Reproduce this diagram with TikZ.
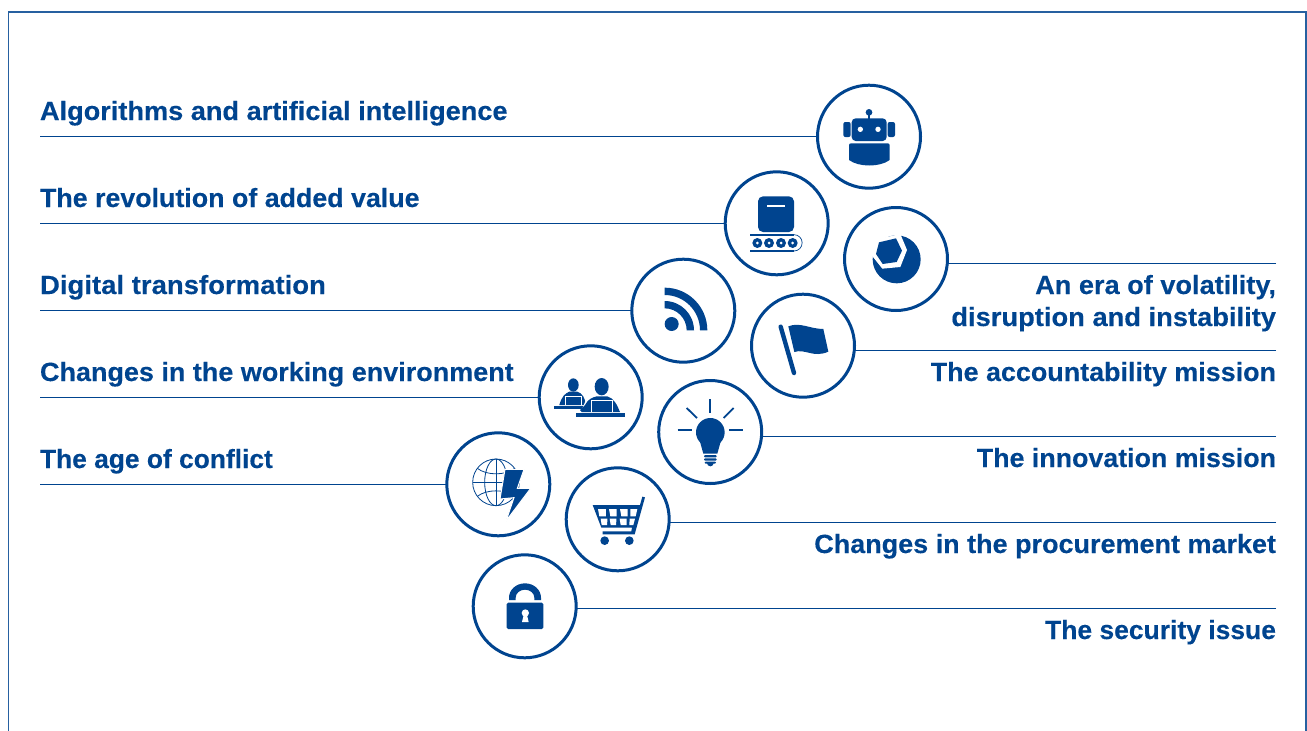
\documentclass[tikz,border=0pt]{standalone}
\usepackage{graphicx}
\usepackage{fontspec}
\setmainfont[BoldFeatures={FakeStretch=1.032,FakeBold=0.25}]{Liberation Sans}
\definecolor{ink}{HTML}{00448F}
\newcommand{\fitx}[2]{\scalebox{#1}[1]{#2}}
\tikzset{
  x=1pt,y=-1pt,
  ring/.style={circle,draw=ink,line width=3pt,minimum size=103pt,inner sep=0pt,outer sep=0pt,fill=white},
  rule/.style={draw=ink,line width=1pt},
  lab/.style={text=ink,font=\fontsize{26.3}{32}\selectfont\bfseries,inner sep=0pt,outer sep=0pt},
  labl/.style={lab,anchor=base west},
  labr/.style={lab,anchor=base east},
  zA/.style={shift={(720,80)},x=0.33333pt,y=-0.33333pt},
  zB/.style={shift={(530,255)},x=0.33333pt,y=-0.33333pt},
  zC/.style={shift={(440,375)},x=0.33333pt,y=-0.33333pt},
  ic/.style={fill=ink,draw=none},
  wh/.style={fill=white,draw=none},
  ray/.style={draw=ink,line width=1.8pt},
}
\begin{document}
\begin{tikzpicture}
\useasboundingbox (0,0) rectangle (1307,731);
% frame
\draw[draw=ink,line width=1.2pt,opacity=.85] (8.5,740) -- (8.5,12) -- (1306,12) -- (1306,740);
% free ends
\coordinate (la) at (40,136); \coordinate (lb) at (40,223); \coordinate (lc) at (40,310);
\coordinate (ld) at (40,397); \coordinate (le) at (40,484);
\coordinate (ra) at (1276,263); \coordinate (rb) at (1276,350); \coordinate (rc) at (1276,436);
\coordinate (rd) at (1276,522); \coordinate (re) at (1276,608);
% circles
\node[ring] (robot) at (869,136.7) {};
\node[ring] (belt) at (776.7,223.3) {};
\node[ring] (wrench) at (896,259) {};
\node[ring] (rss) at (683.3,310.7) {};
\node[ring] (flag) at (803,345.7) {};
\node[ring] (work) at (590.7,397.3) {};
\node[ring] (bulb) at (710.2,432) {};
\node[ring] (globe) at (498.3,484.3) {};
\node[ring] (cart) at (617.7,519.3) {};
\node[ring] (lock) at (524.7,606.3) {};
% connectors
\draw[rule] (la) -- (la -| robot.west);
\draw[rule] (lb) -- (lb -| belt.west);
\draw[rule] (lc) -- (lc -| rss.west);
\draw[rule] (ld) -- (ld -| work.west);
\draw[rule] (le) -- (le -| globe.west);
\draw[rule] (ra) -- (ra -| wrench.east);
\draw[rule] (rb) -- (rb -| flag.east);
\draw[rule] (rc) -- (rc -| bulb.east);
\draw[rule] (rd) -- (rd -| cart.east);
\draw[rule] (re) -- (re -| lock.east);
% labels
\node[labl] (ta) at (40,120) {Algorithms and artificial intelligence};
\node[labl] (tb) at (40,207) {\fitx{.987}{The revolution of added value}};
\node[labl] (tc) at (40,294) {\fitx{1.014}{Digital transformation}};
\node[labl] (td) at (40,381) {\fitx{.994}{Changes in the working environment}};
\node[labl] (te) at (40,468) {\fitx{.971}{The age of conflict}};
\node[labr] (ua) at (1276,294) {An era of volatility,};
\node[labr] (ub) at (1276,326) {\fitx{1.006}{disruption and instability}};
\node[labr] (uc) at (1276,381) {\fitx{.991}{The accountability mission}};
\node[labr] (ud) at (1276,467) {\fitx{.987}{The innovation mission}};
\node[labr] (ue) at (1276,553) {\fitx{.994}{Changes in the procurement market}};
\node[labr] (uf) at (1276,639) {\fitx{.975}{The security issue}};
% robot
\begin{scope}[zA]
\fill[ic] (447,97) circle (10);
\fill[ic] (444,100) rectangle (450,118);
\fill[ic,rounded corners=4pt] (395,115) rectangle (500,183);
\fill[wh] (421,148) circle (8); \fill[wh] (474,148) circle (8);
\fill[ic,rounded corners=2pt] (370,126) rectangle (392,171);
\fill[ic,rounded corners=2pt] (503,126) rectangle (525,171);
\fill[ic] (393,190) -- (503,190) .. controls (507,190) and (509,192) .. (509,196) -- (509,240) .. controls (480,262) and (416,262) .. (387,240) -- (387,196) .. controls (387,192) and (389,190) .. (393,190) -- cycle;
% conveyor
\fill[ic,rounded corners=5pt] (114,349) rectangle (222,456);
\fill[wh] (141,373.5) rectangle (196,379.5);
\fill[ic] (90,462) rectangle (222,467);
\fill[ic] (90,510) rectangle (222,515);
\draw[draw=ink,line width=.7pt] (222,464) arc (-90:90:24.5);
\foreach \q in {112,147,183,218}{
  \fill[ic] (\q,489) circle (15);
  \fill[wh] (\q,489) circle (4.5);
}
% wrench
\fill[ic] (530,538) circle (72);
\fill[wh] (541,462) -- (561,510) -- (541,561) -- (487,566) -- (455,526) -- (462,480) -- cycle;
\fill[ic] (477,487) -- (528,475) -- (546,512) -- (530,546) -- (488,552) -- (468,522) -- cycle;
\end{scope}
% rss, flag, workers
\begin{scope}[zB]
\fill[ic] (425,207) circle (21);
\fill[ic] (404,98) arc (-90:0:128) -- (510,226) arc (0:-90:106) -- cycle;
\fill[ic] (404,138) arc (-90:0:88) -- (470,226) arc (0:-90:66) -- cycle;
% flag
\draw[draw=ink,line width=4.4pt,line cap=round] (752,215) -- (792,354);
\fill[ic] (775,214) .. controls (810,200) and (840,222) .. (880,222) -- (895,290) .. controls (850,310) and (825,280) .. (793,291) -- cycle;
% workers small
\fill[ic] (130,390) ellipse (16 and 20);
\fill[ic] (88,450) .. controls (95,425) and (105,415) .. (118,410) -- (142,410) .. controls (158,415) and (165,430) .. (168,450) -- cycle;
\draw[draw=white,line width=.6pt] (107,450) -- (107,423) -- (154,423) -- (154,450);
\fill[ic] (72,453) rectangle (182,461);
% workers large
\fill[wh] (150,476) -- (170,430) -- (275,430) -- (280,476) -- cycle;
\fill[ic] (215,395) ellipse (21 and 26);
\fill[ic] (150,465) -- (165,450) .. controls (175,432) and (185,428) .. (200,424) -- (232,424) .. controls (250,428) and (262,450) .. (270,471) -- (155,471) -- cycle;
\draw[draw=white,line width=.7pt] (184,471) -- (184,437) -- (246,437) -- (246,471);
\fill[ic] (138,475) rectangle (286,485);
\end{scope}
% globe, bulb, cart, lock
\begin{scope}[zC]
\begin{scope}[draw=ink,line width=.8pt]
\draw (168,322) circle (70);
\draw (168,322) ellipse (34 and 70);
\draw (168,252) -- (168,392);
\draw (98,322) -- (238,322);
\draw (112,280) .. controls (140,302) and (196,302) .. (224,280);
\draw (112,364) .. controls (140,342) and (196,342) .. (224,364);
\end{scope}
\fill[ic,draw=white,line width=1pt] (195,283) -- (252,283) -- (232,340) -- (272,340) -- (198,438) -- (222,368) -- (180,372) -- cycle;
% bulb
\fill[ic] (811,172) circle (43);
\fill[ic] (780,200) -- (842,200) -- (832,236) -- (790,236) -- cycle;
\fill[ic,rounded corners=1pt] (792,240) rectangle (830,247);
\fill[ic,rounded corners=1pt] (792,250) rectangle (830,257);
\fill[ic,rounded corners=1pt] (794,260) rectangle (828,266);
\fill[ic] (801,264) arc (180:0:10);
\draw[ray] (811,72) -- (811,115);
\draw[ray] (740,99) -- (771,129);
\draw[ray] (881,99) -- (851,129);
\draw[ray] (713,165) -- (757,165);
\draw[ray] (867,165) -- (910,165);
% cart
\fill[ic] (458,390) -- (600,390) -- (607,365) -- (615,367) -- (584,478) -- (488,478) -- (488,469) -- (574,469) -- (576,458) -- (484,458) -- cycle;
\foreach \a/\b/\c/\d in {474/498/482/502, 507/530/509/529, 540/563/539/560}{
  \fill[wh] (\a,402) -- (\b,402) -- ({\b-0.5},424) -- ({\a+4},424) -- cycle;
  \fill[wh] (\c,431) -- (\d,431) -- ({\d-0.5},450) -- ({\c+3},450) -- cycle;
}
\fill[wh] (571,402) -- (592,402) -- (587,424) -- (571,424) -- cycle;
\fill[wh] (569,431) -- (585,431) -- (580,450) -- (568,450) -- cycle;
\fill[ic] (494,497) circle (13); \fill[ic] (568,497) circle (13);
% lock
\fill[ic,rounded corners=1.5pt] (200,683) rectangle (310,762);
\fill[ic] (207,675) -- (207,668) arc (180:360:48 and 43) -- (303,675) -- (283,675) -- (283,668) arc (0:-180:28 and 24) -- (227,675) -- cycle;
\fill[wh] (256,714) circle (11);
\fill[wh] (252,716) -- (260,716) -- (266,741) -- (246,741) -- cycle;
\end{scope}
\end{tikzpicture}
\end{document}
